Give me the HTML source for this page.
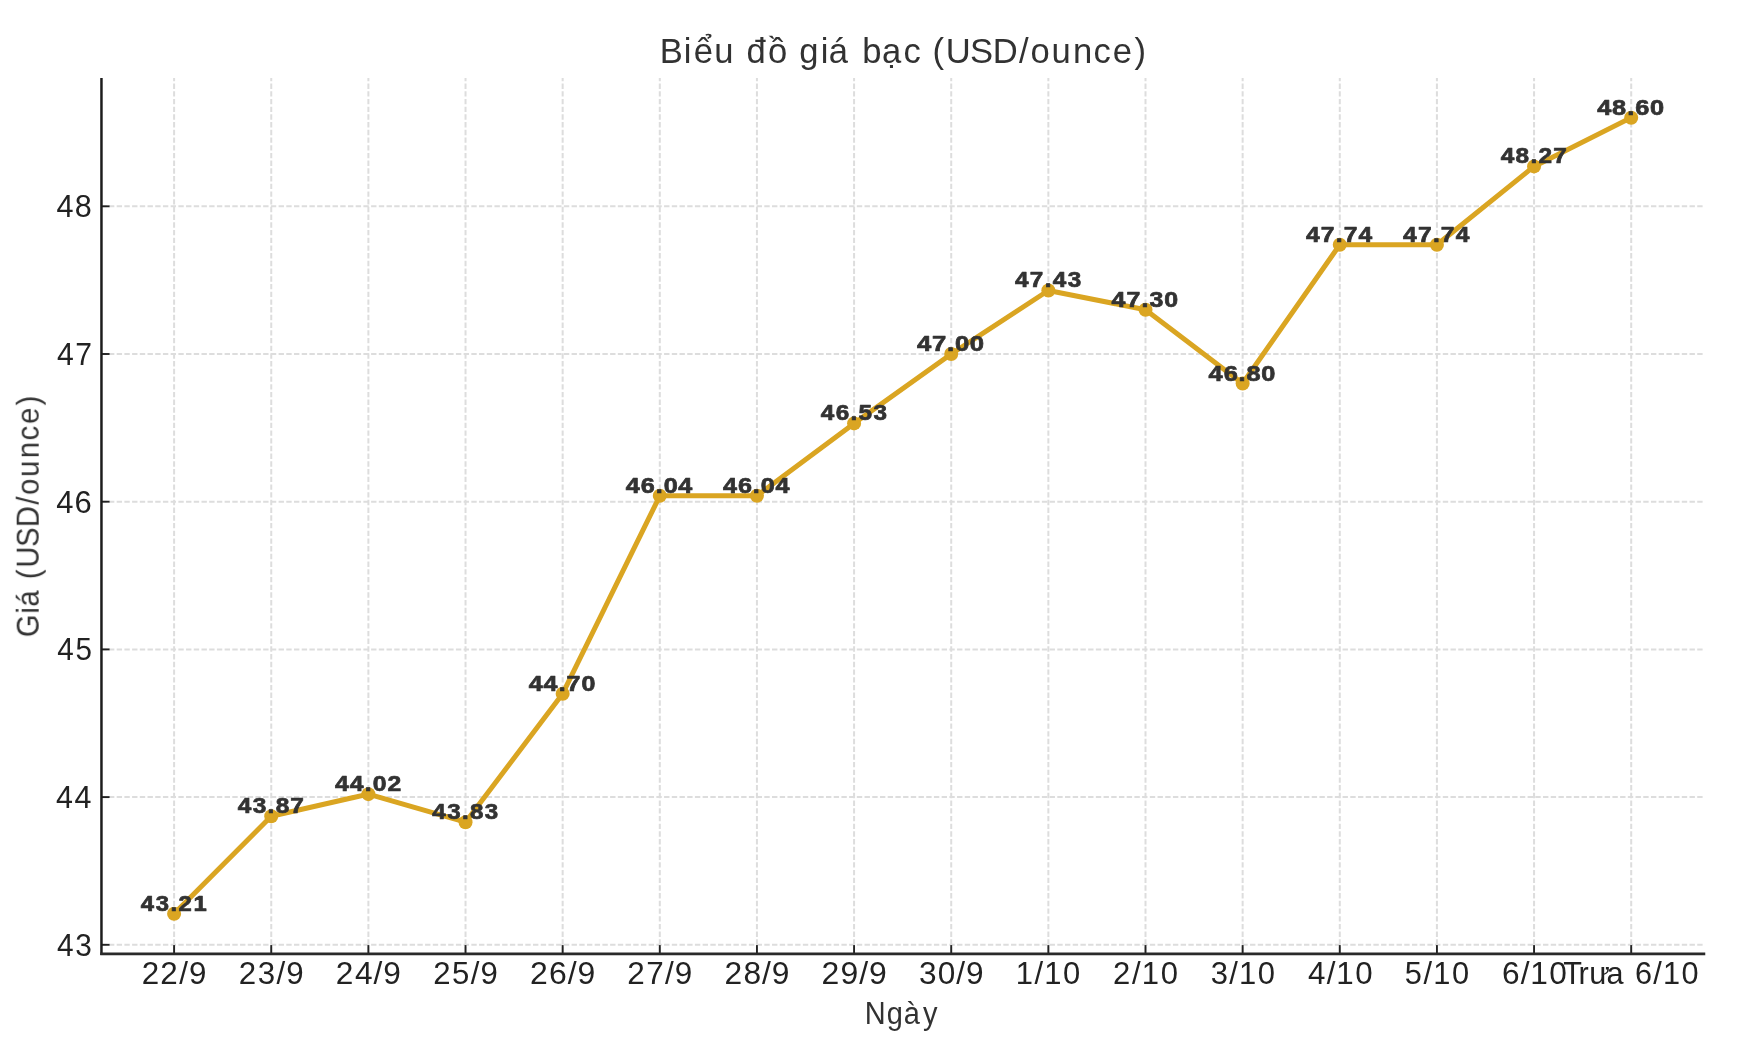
<!DOCTYPE html>
<html><head><meta charset="utf-8"><title>Biểu đồ giá bạc</title><style>
html,body{margin:0;padding:0;background:#fff;width:1741px;height:1042px;overflow:hidden}
svg{display:block}
text{font-family:"Liberation Sans",sans-serif;font-kerning:none;white-space:pre}
</style></head><body>
<svg width="1741" height="1042" viewBox="0 0 1741 1042">
<defs><filter id="soft" filterUnits="userSpaceOnUse" x="0" y="0" width="1741" height="1042"><feGaussianBlur stdDeviation="0.45"/></filter></defs>
<rect width="1741" height="1042" fill="#ffffff"/>
<g filter="url(#soft)">
<g stroke="#dddddd" stroke-width="2.0" stroke-dasharray="5.38 2.33" fill="none"><g stroke-dashoffset="-1.2"><line x1="174.10" y1="953.60" x2="174.10" y2="77.90"/><line x1="271.24" y1="953.60" x2="271.24" y2="77.90"/><line x1="368.38" y1="953.60" x2="368.38" y2="77.90"/><line x1="465.52" y1="953.60" x2="465.52" y2="77.90"/><line x1="562.66" y1="953.60" x2="562.66" y2="77.90"/><line x1="659.80" y1="953.60" x2="659.80" y2="77.90"/><line x1="756.94" y1="953.60" x2="756.94" y2="77.90"/><line x1="854.08" y1="953.60" x2="854.08" y2="77.90"/><line x1="951.22" y1="953.60" x2="951.22" y2="77.90"/><line x1="1048.36" y1="953.60" x2="1048.36" y2="77.90"/><line x1="1145.50" y1="953.60" x2="1145.50" y2="77.90"/><line x1="1242.64" y1="953.60" x2="1242.64" y2="77.90"/><line x1="1339.78" y1="953.60" x2="1339.78" y2="77.90"/><line x1="1436.92" y1="953.60" x2="1436.92" y2="77.90"/><line x1="1534.06" y1="953.60" x2="1534.06" y2="77.90"/><line x1="1631.20" y1="953.60" x2="1631.20" y2="77.90"/></g><line x1="101.25" y1="944.80" x2="1704.05" y2="944.80"/><line x1="101.25" y1="797.10" x2="1704.05" y2="797.10"/><line x1="101.25" y1="649.40" x2="1704.05" y2="649.40"/><line x1="101.25" y1="501.70" x2="1704.05" y2="501.70"/><line x1="101.25" y1="354.00" x2="1704.05" y2="354.00"/><line x1="101.25" y1="206.30" x2="1704.05" y2="206.30"/></g>
<g stroke="#222222" stroke-width="1.9"><line x1="174.10" y1="953.60" x2="174.10" y2="945.10"/><line x1="271.24" y1="953.60" x2="271.24" y2="945.10"/><line x1="368.38" y1="953.60" x2="368.38" y2="945.10"/><line x1="465.52" y1="953.60" x2="465.52" y2="945.10"/><line x1="562.66" y1="953.60" x2="562.66" y2="945.10"/><line x1="659.80" y1="953.60" x2="659.80" y2="945.10"/><line x1="756.94" y1="953.60" x2="756.94" y2="945.10"/><line x1="854.08" y1="953.60" x2="854.08" y2="945.10"/><line x1="951.22" y1="953.60" x2="951.22" y2="945.10"/><line x1="1048.36" y1="953.60" x2="1048.36" y2="945.10"/><line x1="1145.50" y1="953.60" x2="1145.50" y2="945.10"/><line x1="1242.64" y1="953.60" x2="1242.64" y2="945.10"/><line x1="1339.78" y1="953.60" x2="1339.78" y2="945.10"/><line x1="1436.92" y1="953.60" x2="1436.92" y2="945.10"/><line x1="1534.06" y1="953.60" x2="1534.06" y2="945.10"/><line x1="1631.20" y1="953.60" x2="1631.20" y2="945.10"/><line x1="101.25" y1="944.80" x2="109.55" y2="944.80"/><line x1="101.25" y1="797.10" x2="109.55" y2="797.10"/><line x1="101.25" y1="649.40" x2="109.55" y2="649.40"/><line x1="101.25" y1="501.70" x2="109.55" y2="501.70"/><line x1="101.25" y1="354.00" x2="109.55" y2="354.00"/><line x1="101.25" y1="206.30" x2="109.55" y2="206.30"/></g>
<line x1="101.45" y1="77.90" x2="101.45" y2="954.90" stroke="#1e1e1e" stroke-width="2.5"/>
<line x1="100.25" y1="953.80" x2="1705.25" y2="953.80" stroke="#2a2a2a" stroke-width="2.7"/>
<polyline points="174.10,913.78 271.24,816.30 368.38,794.15 465.52,822.21 562.66,693.71 659.80,495.79 756.94,495.79 854.08,423.42 951.22,354.00 1048.36,290.49 1145.50,309.69 1242.64,383.54 1339.78,244.70 1436.92,244.70 1534.06,166.42 1631.20,117.68" fill="none" stroke="#DAA520" stroke-width="5.0" stroke-linejoin="round" stroke-linecap="square"/>
<g fill="#DAA520"><circle cx="174.10" cy="913.78" r="7"/><circle cx="271.24" cy="816.30" r="7"/><circle cx="368.38" cy="794.15" r="7"/><circle cx="465.52" cy="822.21" r="7"/><circle cx="562.66" cy="693.71" r="7"/><circle cx="659.80" cy="495.79" r="7"/><circle cx="756.94" cy="495.79" r="7"/><circle cx="854.08" cy="423.42" r="7"/><circle cx="951.22" cy="354.00" r="7"/><circle cx="1048.36" cy="290.49" r="7"/><circle cx="1145.50" cy="309.69" r="7"/><circle cx="1242.64" cy="383.54" r="7"/><circle cx="1339.78" cy="244.70" r="7"/><circle cx="1436.92" cy="244.70" r="7"/><circle cx="1534.06" cy="166.42" r="7"/><circle cx="1631.20" cy="117.68" r="7"/></g>
<text transform="scale(0.9671,1)" x="682.08 706.99 717.45 738.46 758.35 771.90 794.19 814.07 826.52 848.72 857.04 876.92 891.57 911.90 934.17 952.05 964.27 977.88 1003.01 1026.52 1053.79 1065.45 1087.19 1109.56 1130.82 1150.70 1173.14" y="63.40" font-size="35.76" font-weight="normal" fill="#333333">Biểu đồ giá bạc (USD/ounce)</text>
<text transform="scale(0.9460,1)" x="60.22 79.67" y="955.70" font-size="31.54" font-weight="normal" fill="#222222">43</text>
<text transform="scale(0.9646,1)" x="58.17 77.21" y="808.00" font-size="31.54" font-weight="normal" fill="#222222">44</text>
<text transform="scale(0.9382,1)" x="61.01 80.47" y="660.30" font-size="31.54" font-weight="normal" fill="#222222">45</text>
<text transform="scale(0.9806,1)" x="57.28 76.00" y="512.60" font-size="31.54" font-weight="normal" fill="#222222">46</text>
<text transform="scale(0.9545,1)" x="59.76 78.94" y="364.90" font-size="31.54" font-weight="normal" fill="#222222">47</text>
<text transform="scale(0.9696,1)" x="58.19 77.13" y="217.20" font-size="31.54" font-weight="normal" fill="#222222">48</text>
<text transform="scale(0.9983,1)" x="141.91 160.59 179.63 189.45" y="984.50" font-size="31.40" font-weight="normal" fill="#222222">22/9</text>
<text transform="scale(0.9967,1)" x="239.60 258.73 277.37 287.21" y="984.50" font-size="31.40" font-weight="normal" fill="#222222">23/9</text>
<text transform="scale(1.0074,1)" x="333.39 352.28 370.81 380.49" y="984.50" font-size="31.40" font-weight="normal" fill="#222222">24/9</text>
<text transform="scale(0.9921,1)" x="436.59 455.66 474.52 484.42" y="984.50" font-size="31.40" font-weight="normal" fill="#222222">25/9</text>
<text transform="scale(1.0176,1)" x="520.90 539.60 557.99 567.53" y="984.50" font-size="31.40" font-weight="normal" fill="#222222">26/9</text>
<text transform="scale(1.0022,1)" x="625.96 644.89 663.55 673.31" y="984.50" font-size="31.40" font-weight="normal" fill="#222222">27/9</text>
<text transform="scale(1.0109,1)" x="716.59 735.41 753.90 763.53" y="984.50" font-size="31.40" font-weight="normal" fill="#222222">28/9</text>
<text transform="scale(1.0170,1)" x="807.74 826.36 844.85 854.40" y="984.50" font-size="31.40" font-weight="normal" fill="#222222">29/9</text>
<text transform="scale(1.0061,1)" x="913.49 931.98 950.53 960.23" y="984.50" font-size="31.40" font-weight="normal" fill="#222222">30/9</text>
<text transform="scale(0.9858,1)" x="1030.30 1049.30 1059.23 1078.31" y="984.50" font-size="31.40" font-weight="normal" fill="#222222">1/10</text>
<text transform="scale(0.9875,1)" x="1127.18 1146.38 1156.28 1175.33" y="984.50" font-size="31.40" font-weight="normal" fill="#222222">2/10</text>
<text transform="scale(0.9861,1)" x="1227.72 1246.51 1256.44 1275.51" y="984.50" font-size="31.40" font-weight="normal" fill="#222222">3/10</text>
<text transform="scale(0.9970,1)" x="1311.95 1330.63 1340.39 1359.26" y="984.50" font-size="31.40" font-weight="normal" fill="#222222">4/10</text>
<text transform="scale(0.9814,1)" x="1431.38 1450.40 1460.40 1479.55" y="984.50" font-size="31.40" font-weight="normal" fill="#222222">5/10</text>
<text transform="scale(1.0070,1)" x="1491.56 1510.09 1519.71 1538.39" y="984.50" font-size="31.40" font-weight="normal" fill="#222222">6/10</text>
<text transform="scale(0.9769,1)" x="1600.19 1615.88 1626.86 1644.60 1662.06 1673.61 1692.38 1702.24 1721.23" y="984.50" font-size="31.40" font-weight="normal" fill="#222222">Trưa 6/10</text>
<text transform="scale(0.8984,1)" x="962.43 987.03 1006.02 1027.36" y="1024.50" font-size="32.27" font-weight="normal" fill="#333333">Ngày</text>
<text transform="translate(38.70,0) rotate(-90) scale(0.9289,1)" x="-686.04 -660.74 -653.16 -635.70 -623.55 -611.24 -588.73 -567.61 -543.33 -532.78 -513.29 -493.23 -474.18 -456.34 -436.31" y="0" font-size="31.40" font-weight="normal" fill="#333333">Giá (USD/ounce)</text>
<text transform="scale(1.0937,1)" x="128.66 142.34 155.84 163.26 176.87" y="910.78" font-size="21.80" font-weight="bold" fill="#333333" stroke="#333333" stroke-width="0.7" stroke-linejoin="round">43.21</text>
<text transform="scale(1.1212,1)" x="212.09 225.45 238.69 245.84 258.97" y="813.30" font-size="21.80" font-weight="bold" fill="#333333" stroke="#333333" stroke-width="0.7" stroke-linejoin="round">43.87</text>
<text transform="scale(1.1329,1)" x="295.66 308.74 322.01 329.10 342.15" y="791.15" font-size="21.80" font-weight="bold" fill="#333333" stroke="#333333" stroke-width="0.7" stroke-linejoin="round">44.02</text>
<text transform="scale(1.1068,1)" x="390.47 404.00 417.37 424.66 438.09" y="819.21" font-size="21.80" font-weight="bold" fill="#333333" stroke="#333333" stroke-width="0.7" stroke-linejoin="round">43.83</text>
<text transform="scale(1.1482,1)" x="460.49 473.40 486.54 493.37 506.40" y="690.71" font-size="21.80" font-weight="bold" fill="#333333" stroke="#333333" stroke-width="0.7" stroke-linejoin="round">44.70</text>
<text transform="scale(1.1545,1)" x="542.05 555.07 567.97 574.86 587.57" y="492.79" font-size="21.80" font-weight="bold" fill="#333333" stroke="#333333" stroke-width="0.7" stroke-linejoin="round">46.04</text>
<text transform="scale(1.1545,1)" x="626.19 639.21 652.11 659.00 671.71" y="492.79" font-size="21.80" font-weight="bold" fill="#333333" stroke="#333333" stroke-width="0.7" stroke-linejoin="round">46.04</text>
<text transform="scale(1.1149,1)" x="736.09 749.57 762.82 770.09 783.37" y="420.42" font-size="21.80" font-weight="bold" fill="#333333" stroke="#333333" stroke-width="0.7" stroke-linejoin="round">46.53</text>
<text transform="scale(1.1788,1)" x="778.01 790.60 803.46 810.15 822.73" y="351.00" font-size="21.80" font-weight="bold" fill="#333333" stroke="#333333" stroke-width="0.7" stroke-linejoin="round">47.00</text>
<text transform="scale(1.1141,1)" x="911.05 924.36 937.80 944.92 958.36" y="287.49" font-size="21.80" font-weight="bold" fill="#333333" stroke="#333333" stroke-width="0.7" stroke-linejoin="round">47.43</text>
<text transform="scale(1.1434,1)" x="972.19 985.16 998.33 1005.33 1018.28" y="306.69" font-size="21.80" font-weight="bold" fill="#333333" stroke="#333333" stroke-width="0.7" stroke-linejoin="round">47.30</text>
<text transform="scale(1.1625,1)" x="1039.67 1052.61 1065.44 1072.23 1085.01" y="380.54" font-size="21.80" font-weight="bold" fill="#333333" stroke="#333333" stroke-width="0.7" stroke-linejoin="round">46.80</text>
<text transform="scale(1.1285,1)" x="1157.26 1170.40 1183.70 1190.70 1203.83" y="241.70" font-size="21.80" font-weight="bold" fill="#333333" stroke="#333333" stroke-width="0.7" stroke-linejoin="round">47.74</text>
<text transform="scale(1.1285,1)" x="1243.34 1256.48 1269.78 1276.78 1289.91" y="241.70" font-size="21.80" font-weight="bold" fill="#333333" stroke="#333333" stroke-width="0.7" stroke-linejoin="round">47.74</text>
<text transform="scale(1.1205,1)" x="1339.27 1352.59 1365.88 1373.04 1386.18" y="163.42" font-size="21.80" font-weight="bold" fill="#333333" stroke="#333333" stroke-width="0.7" stroke-linejoin="round">48.27</text>
<text transform="scale(1.1625,1)" x="1373.92 1386.77 1399.69 1406.57 1419.26" y="114.68" font-size="21.80" font-weight="bold" fill="#333333" stroke="#333333" stroke-width="0.7" stroke-linejoin="round">48.60</text>
</g>
</svg>
</body></html>
